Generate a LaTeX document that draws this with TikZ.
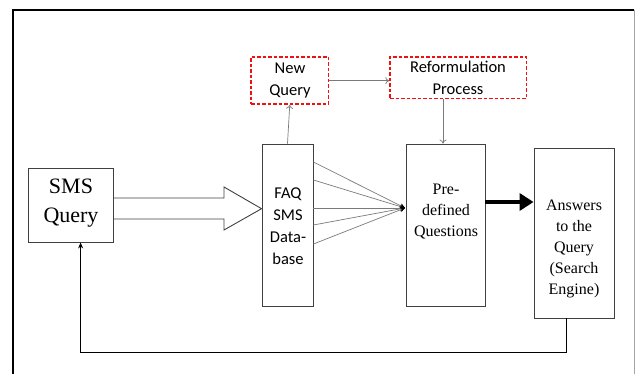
\documentclass[tikz,border=0pt]{standalone}
\usepackage{fontspec}
\setmainfont{Liberation Serif}
\newfontfamily\calib{Carlito}
\usetikzlibrary{arrows.meta}
\definecolor{boxline}{HTML}{404040}
\definecolor{fanline}{HTML}{7A7A7A}
\definecolor{dashred}{HTML}{F01010}
\tikzset{
  box/.style={draw=boxline, line width=0.9pt, inner sep=0pt},
  redbox/.style={draw=dashred, line width=1.6pt, dash pattern=on 3.5pt off 2pt, inner sep=0pt},
  serifTxt/.style={align=center, font=\fontsize{16}{21}\selectfont, inner sep=0pt},
  sansTxt/.style={align=center, font=\calib\fontsize{16.5}{22}\selectfont, inner sep=0pt},
  thinarrow/.style={draw=fanline, line width=0.7pt, -{To[length=4pt,width=7pt]}},
  fan/.style={draw=fanline, line width=0.7pt, -{Stealth[length=5pt,width=5pt,black]}},
}
\begin{document}
\begin{tikzpicture}[x=1pt,y=-1pt]
\useasboundingbox (0,0) rectangle (635,374);
% frame
\draw[black, line width=1.6pt] (13,374) -- (13,10) -- (634,10);
\draw[gray!70, line width=0.8pt] (634,10) -- (634,374);

% boxes
\node[box, minimum width=85pt, minimum height=74pt] (sms) at (70.9,205) {};
\node[box, minimum width=51pt, minimum height=162pt] (faq) at (287.5,225) {};
\node[box, minimum width=79pt, minimum height=162pt] (pq) at (445.5,225) {};
\node[box, minimum width=80pt, minimum height=170pt] (ans) at (574,233) {};
\node[redbox, minimum width=77.5pt, minimum height=47pt] (nq) at (289.75,80.5) {};
\node[redbox, minimum width=136.5pt, minimum height=41.5pt] (rf) at (458.25,77.75) {};

% texts
\node[serifTxt, font=\fontsize{22}{29}\selectfont] (smsT) at (71,203) {SMS\\Query};
\node[sansTxt] (faqT) at (288,226) {FAQ\\SMS\\Data-\\base};
\node[serifTxt] (pqT) at (446,212) {Pre-\\defined\\Questions};
\node[serifTxt] (ansT) at (574,249) {Answers\\to the\\Query\\(Search\\Engine)};
\node[sansTxt] (nqT) at (290,81) {New\\Query};
\node[sansTxt] (rfT) at (458,78) {Reformulation\\Process};

% big hollow arrow
\coordinate (ha) at (0,198);
\coordinate (hb) at (0,219);
\draw[boxline, line width=0.9pt] (sms.east |- ha) -- (224,198) -- (224,187) -- (faq.west |- 0,208.7) -- (224,230) -- (224,219) -- (sms.east |- hb);

% fan lines
\coordinate (fanT) at (405,208);
\foreach \yy in {162,180,208,225,244} {
  \coordinate (fs) at (313,\yy);
  \draw[fan] (faq.east |- fs) -- (fanT);
}

% thick arrow
\coordinate (tk) at (0,202);
\draw[black, line width=4pt, -{Triangle[length=14pt,width=17pt]}] (pq.east |- tk) -- (ans.west |- tk);

% dashed-box connectors
\coordinate (nr) at (0,80.7);
\draw[thinarrow] (nq.east |- nr) -- (rf.west |- nr);
\draw[thinarrow] (faq.north) -- (nq.south);
\coordinate (rp) at (443,0);
\draw[thinarrow] (rf.south -| rp) -- (pq.north -| rp);

% feedback
\coordinate (fb1) at (566,352);
\coordinate (fb2) at (80.6,352);
\draw[black, line width=0.9pt, -{Stealth[length=6pt,width=5pt]}] (ans.south -| fb1) -- (fb1) -- (fb2) -- (fb2 |- sms.south);
\end{tikzpicture}
\end{document}
